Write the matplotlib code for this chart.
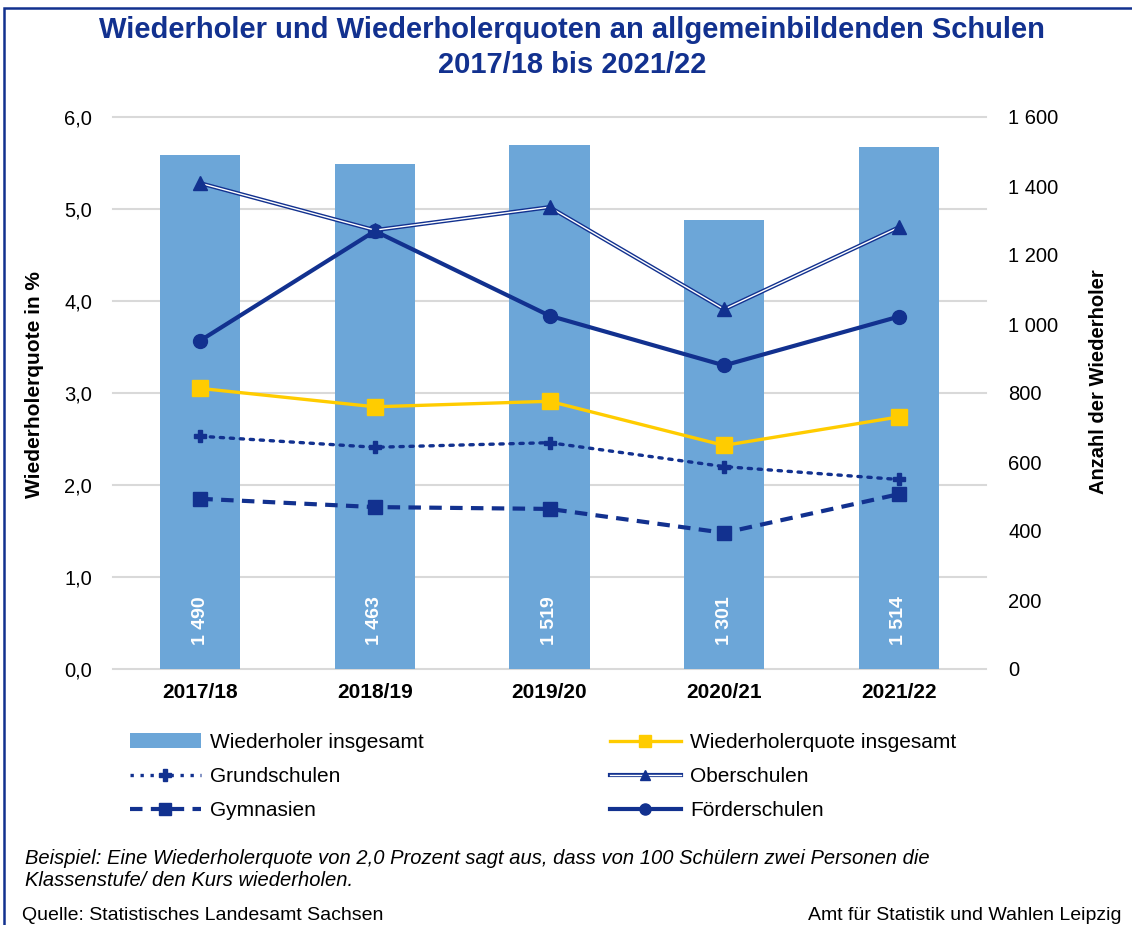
import numpy as np
import matplotlib.pyplot as plt
from matplotlib.lines import Line2D
from matplotlib.patches import Patch, Rectangle

plt.rcParams['font.family'] = ['Liberation Sans', 'DejaVu Sans']

years = ['2017/18', '2018/19', '2019/20', '2020/21', '2021/22']
wiederholer = [1490, 1463, 1519, 1301, 1514]
quote_gesamt = [3.05, 2.85, 2.91, 2.43, 2.74]
grundschulen = [2.53, 2.41, 2.46, 2.20, 2.06]
oberschulen = [5.28, 4.77, 5.02, 3.91, 4.80]
gymnasien = [1.85, 1.76, 1.74, 1.48, 1.90]
foerderschulen = [3.57, 4.76, 3.84, 3.30, 3.83]

left_ticks = [0, 1, 2, 3, 4, 5, 6]
right_ticks = [0, 200, 400, 600, 800, 1000, 1200, 1400, 1600]

blue = '#12318F'
barblue = '#6CA6D8'
yellow = '#FFCC00'
grid = '#D9D9D9'

def fmt(v):
    return '{:,}'.format(v).replace(',', ' ')

fig = plt.figure(figsize=(11.32, 9.25), dpi=100)
W, H = 1132, 925
axq = fig.add_axes([113 / W, 1 - 669 / H, 873 / W, 552 / H])
axb = axq.twinx()
axq.set_zorder(axb.get_zorder() + 1)
axq.patch.set_visible(False)

x = np.arange(len(years))

# bars (right axis)
axb.bar(x, wiederholer, width=0.46, color=barblue, zorder=1)
for xi, v in zip(x, wiederholer):
    axb.text(xi, 140, fmt(v), rotation=90, ha='center', va='center',
             color='white', fontsize=14, fontweight='bold', zorder=3)
axb.set_ylim(0, 1600)
axb.set_yticks(right_ticks)
axb.set_yticklabels([fmt(t) for t in right_ticks])

# gridlines at the left ticks, behind bars
for t in left_ticks:
    axb.plot([0, 1], [t, t], transform=axq.get_yaxis_transform(),
             color=grid, lw=1.5, zorder=0.5, clip_on=False)

# lines (left axis)
axq.plot(x, oberschulen, color=blue, lw=3.0, zorder=3, solid_joinstyle='miter')
axq.plot(x, oberschulen, color='white', lw=1.0, zorder=3.1)
axq.plot(x, oberschulen, ls='none', marker='^', ms=10, color=blue, zorder=3.2)
axq.plot(x, foerderschulen, color=blue, lw=3, marker='o', ms=10, zorder=3)
axq.plot(x, quote_gesamt, color=yellow, lw=2.4, marker='s', ms=12, zorder=3)
axq.plot(x, grundschulen, color=blue, lw=2.4, ls=(0, (1, 2)), marker='P', ms=9,
         dash_capstyle='round', zorder=3)
axq.plot(x, gymnasien, color=blue, lw=3, ls=(0, (3, 2)), marker='s', ms=10, zorder=3)

axq.set_xlim(-0.5, 4.5)
axq.set_ylim(0, 6)
axq.set_yticks(left_ticks)
axq.set_yticklabels(['{:.1f}'.format(t).replace('.', ',') for t in left_ticks])
axq.set_xticks(x)
axq.set_xticklabels(years, fontweight='bold')

for a in (axq, axb):
    for s in a.spines.values():
        s.set_visible(False)
axq.tick_params(axis='y', length=0, pad=15, labelsize=14.5)
axq.tick_params(axis='x', length=0, pad=10, labelsize=15)
axb.tick_params(axis='y', length=0, pad=16, labelsize=14.5)

fig.text(35 / W, 1 - 385 / H, 'Wiederholerquote in %', rotation=90, ha='center',
         va='center', fontsize=15, fontweight='bold')
fig.text(1099 / W, 1 - 382 / H, 'Anzahl der Wiederholer', rotation=90, ha='center',
         va='center', fontsize=14.5, fontweight='bold')

fig.text(572 / W, 1 - 30 / H, 'Wiederholer und Wiederholerquoten an allgemeinbildenden Schulen',
         ha='center', va='center', fontsize=21, fontweight='bold', color=blue)
fig.text(572 / W, 1 - 65 / H, '2017/18 bis 2021/22',
         ha='center', va='center', fontsize=21, fontweight='bold', color=blue)

# legend
h_bar = Patch(facecolor=barblue)
h_grund = Line2D([], [], color=blue, lw=2.4, ls=(0, (1, 2)), marker='P', ms=8)
h_gym = Line2D([], [], color=blue, lw=3, ls=(0, (3, 2)), marker='s', ms=8)
h_quote = Line2D([], [], color=yellow, lw=2.4, marker='s', ms=9)
h_ober = (Line2D([], [], color=blue, lw=3.0), Line2D([], [], color='white', lw=1.0),
          Line2D([], [], ls='none', color=blue, marker='^', ms=7))
h_foerd = Line2D([], [], color=blue, lw=3, marker='o', ms=8)

leg_kw = dict(frameon=False, fontsize=15, handlelength=3.4, handletextpad=0.45,
              labelspacing=0.72, loc='upper left', borderaxespad=0, borderpad=0)
leg1 = fig.legend([h_bar, h_grund, h_gym],
                  ['Wiederholer insgesamt', 'Grundschulen', 'Gymnasien'],
                  bbox_to_anchor=(130 / W, 1 - 733 / H), **leg_kw)
leg2 = fig.legend([h_quote, h_ober, h_foerd],
                  ['Wiederholerquote insgesamt', 'Oberschulen', 'Förderschulen'],
                  bbox_to_anchor=(610 / W, 1 - 733 / H), **leg_kw)

fig.text(25 / W, 1 - 858 / H,
         'Beispiel: Eine Wiederholerquote von 2,0 Prozent sagt aus, dass von 100 Schülern zwei Personen die',
         ha='left', va='center', fontsize=14.5, style='italic')
fig.text(25 / W, 1 - 881 / H, 'Klassenstufe/ den Kurs wiederholen.',
         ha='left', va='center', fontsize=14.5, style='italic')
fig.text(22 / W, 1 - 915 / H, 'Quelle: Statistisches Landesamt Sachsen',
         ha='left', va='center', fontsize=14)
fig.text(1122 / W, 1 - 915 / H, 'Amt für Statistik und Wahlen Leipzig',
         ha='right', va='center', fontsize=14)

fig.patches.append(Rectangle((4 / W, -0.05), 1.1, 1 - 8 / H + 0.05, transform=fig.transFigure,
                             fill=False, edgecolor=blue, lw=1.8))

fig.savefig('out.png', dpi=100)
